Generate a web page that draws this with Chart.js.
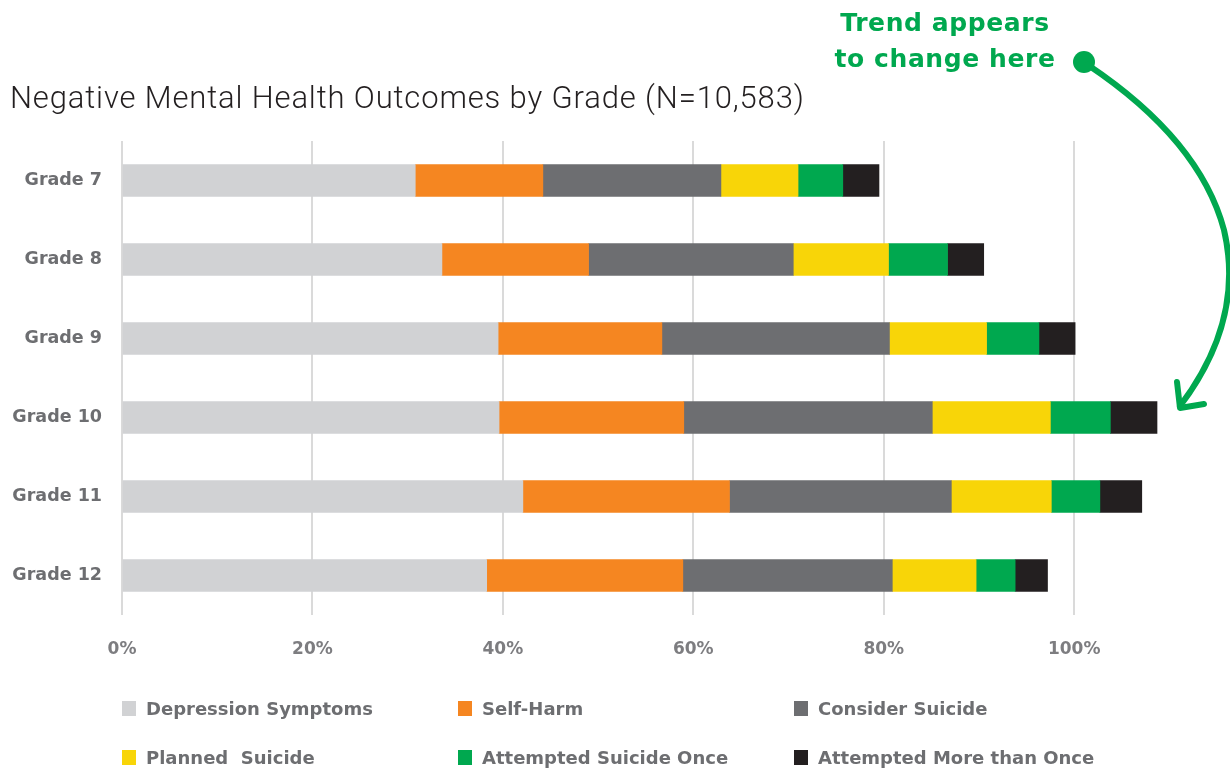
<!DOCTYPE html>
<html lang="en">
<head>
    <meta charset="UTF-8">
    <title>Negative Mental Health Outcomes by Grade</title>
    <script src="https://cdn.jsdelivr.net/npm/chart.js"></script>
    <style>
        body {
            margin: 0;
            width: 1230px;
            height: 771px;
            position: relative;
            background: #ffffff;
            overflow: hidden;
        }
        #chartBox {
            position: absolute;
            left: 0;
            top: 0;
            width: 1230px;
            height: 771px;
        }
        h2 {
            position: absolute;
            left: 10px;
            top: 82px;
            margin: 0;
            font-family: Roboto, "Liberation Sans", sans-serif;
            font-weight: 300;
            font-size: 31px;
            line-height: 31px;
            letter-spacing: 0.85px;
            color: #231f20;
            white-space: nowrap;
        }
        .note {
            position: absolute;
            left: 800px;
            top: 5px;
            width: 290px;
            text-align: center;
            font-family: "DejaVu Sans", sans-serif;
            font-weight: bold;
            font-size: 25px;
            line-height: 36px;
            letter-spacing: 0.6px;
            color: #00a84f;
        }
        #arrow {
            position: absolute;
            left: 0;
            top: 0;
        }
        .legend-item {
            position: absolute;
            height: 20px;
            display: flex;
            align-items: center;
            font-family: "DejaVu Sans", sans-serif;
            font-weight: bold;
            font-size: 18px;
            color: #6d6e71;
            white-space: pre;
        }
        .legend-item span.box {
            width: 14px;
            height: 15px;
            margin-right: 10px;
            flex: none;
        }
    </style>
</head>
<body>
    <div id="chartBox"><canvas id="gradeChart" width="1230" height="771"></canvas></div>
    <h2>Negative Mental Health Outcomes by Grade (N=10,583)</h2>
    <div class="note">Trend appears<br>to change here</div>
    <svg id="arrow" width="1230" height="771">
        <circle cx="1084" cy="62" r="11" fill="#00a84f"/>
        <path d="M1088,65 Q1200,140 1224,230 Q1245,320 1180,406" fill="none" stroke="#00a84f" stroke-width="6" stroke-linecap="round"/>
        <path d="M1177,382 L1180,408 L1204,404" fill="none" stroke="#00a84f" stroke-width="6" stroke-linecap="round" stroke-linejoin="round"/>
    </svg>
    <div id="legend"></div>

    <script>
        const grades = ['Grade 7', 'Grade 8', 'Grade 9', 'Grade 10', 'Grade 11', 'Grade 12'];

        // percent of students per outcome, stacked left to right
        const depression = [30.8, 33.6, 39.5, 39.6, 42.1, 38.3];
        const selfHarm = [13.4, 15.4, 17.2, 19.4, 21.7, 20.6];
        const considerSuicide = [18.7, 21.5, 23.9, 26.1, 23.3, 22.0];
        const plannedSuicide = [8.1, 10.0, 10.2, 12.4, 10.5, 8.8];
        const attemptedOnce = [4.7, 6.2, 5.5, 6.3, 5.1, 4.1];
        const attemptedMore = [3.8, 3.8, 3.8, 4.9, 4.4, 3.4];

        const xTicks = [0, 20, 40, 60, 80, 100];

        const series = [
            { label: 'Depression Symptoms', data: depression, color: '#d1d2d4' },
            { label: 'Self-Harm', data: selfHarm, color: '#f58621' },
            { label: 'Consider Suicide', data: considerSuicide, color: '#6d6e71' },
            { label: 'Planned  Suicide', data: plannedSuicide, color: '#f8d508' },
            { label: 'Attempted Suicide Once', data: attemptedOnce, color: '#00a84f' },
            { label: 'Attempted More than Once', data: attemptedMore, color: '#231f20' }
        ];

        const tickFont = { family: '"DejaVu Sans", sans-serif', size: 17, weight: 'bold' };

        const ctx = document.getElementById('gradeChart').getContext('2d');
        const gradeChart = new Chart(ctx, {
            type: 'bar',
            data: {
                labels: grades,
                datasets: series.map(s => ({
                    label: s.label,
                    data: s.data,
                    backgroundColor: s.color,
                    borderWidth: 0,
                    barThickness: 32
                }))
            },
            options: {
                indexAxis: 'y',
                responsive: false,
                animation: false,
                layout: { padding: { top: 141, bottom: 96, left: 0, right: 13 } },
                plugins: {
                    legend: { display: false },
                    title: { display: false },
                    tooltip: { enabled: false }
                },
                scales: {
                    x: {
                        stacked: true,
                        min: 0,
                        max: 115,
                        afterBuildTicks: scale => {
                            scale.ticks = xTicks.map(v => ({ value: v }));
                        },
                        afterFit: scale => { scale.height = 60; },
                        border: { display: false },
                        grid: { color: '#dadada', lineWidth: 2, drawTicks: false },
                        ticks: {
                            padding: 24,
                            color: '#7d7d80',
                            font: tickFont,
                            callback: v => v + '%'
                        }
                    },
                    y: {
                        stacked: true,
                        afterFit: scale => { scale.width = 122; },
                        border: { display: false },
                        grid: { display: false, drawTicks: false },
                        ticks: {
                            padding: 20,
                            color: '#6d6e71',
                            font: { family: '"DejaVu Sans", sans-serif', size: 17.5, weight: 'bold' }
                        }
                    }
                }
            }
        });

        // legend in two rows of three columns
        const legend = document.getElementById('legend');
        const colX = [122, 458, 794];
        const rowY = [698, 747];
        gradeChart.data.datasets.forEach((ds, i) => {
            const item = document.createElement('div');
            item.className = 'legend-item';
            item.style.left = colX[i % 3] + 'px';
            item.style.top = rowY[Math.floor(i / 3)] + 'px';
            const box = document.createElement('span');
            box.className = 'box';
            box.style.background = ds.backgroundColor;
            item.appendChild(box);
            item.appendChild(document.createTextNode(ds.label));
            legend.appendChild(item);
        });
    </script>
</body>
</html>
